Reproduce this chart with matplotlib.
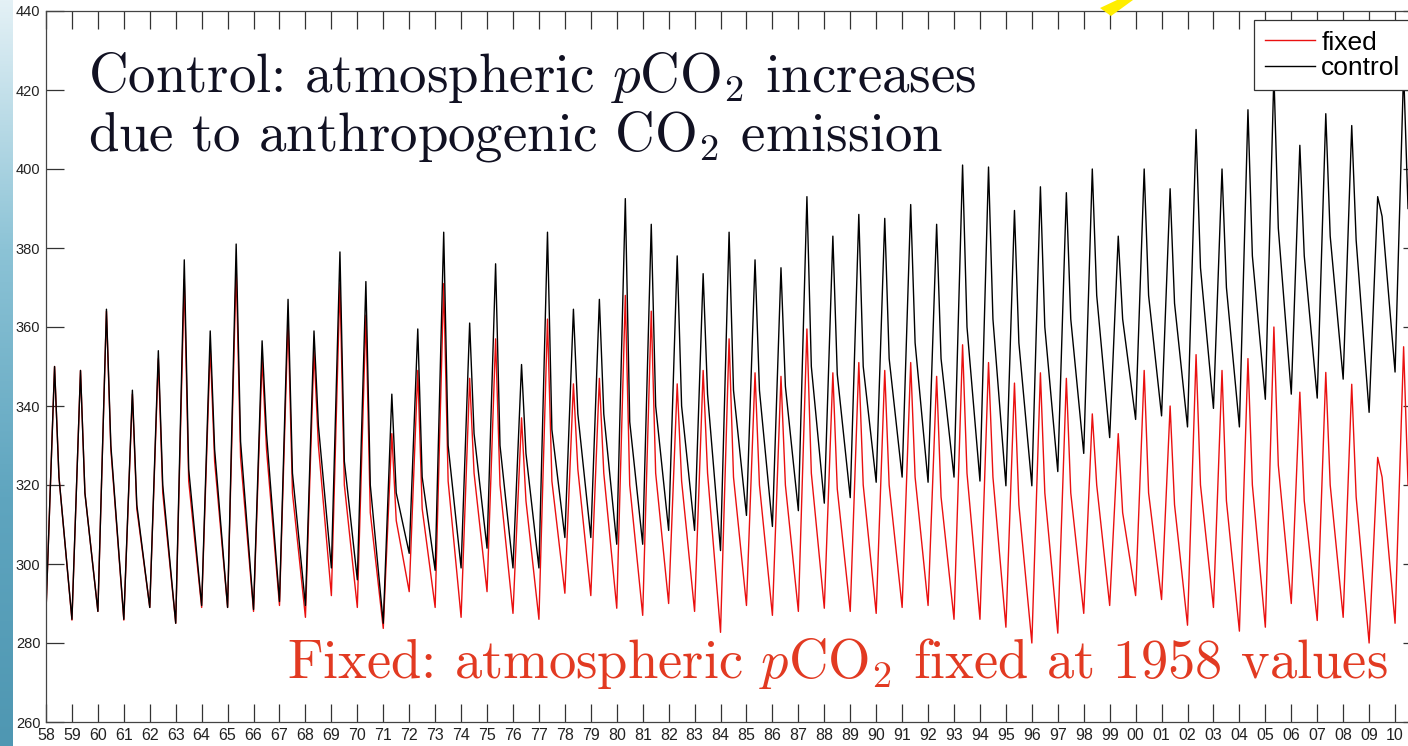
import matplotlib
matplotlib.use("Agg")
import matplotlib.pyplot as plt
import numpy as np
from matplotlib.patches import Polygon

# years of the run, one seasonal cycle each
years = list(range(1958, 2011))

# time of the winter low, spring peak and summer shoulder inside each year
phase = [0.0, 0.33, 0.5]

# control run (atmospheric pCO2 rising)
control_low = [288, 286, 288, 286, 289, 285, 289.5, 289, 288.5, 290.5,
               289.5, 299, 296, 285, 302.7, 298.4, 299, 304, 299, 299,
               306.7, 306.7, 305, 305, 308.5, 308.5, 303.4, 312.3, 309.5, 313.5,
               315.4, 316.8, 320.7, 322, 320.7, 322, 321, 319.8, 319.8, 323.4,
               328, 332, 336.6, 337.5, 334.7, 339.4, 334.7, 341.7, 343, 342,
               346.8, 338.4, 348.6]
control_peak = [350, 349, 364.5, 344, 354, 377, 359, 381, 356.5, 367,
                359, 379, 371.5, 343, 359.5, 384, 361, 376, 350.5, 384,
                364.5, 367, 392.5, 386, 378, 373.5, 384, 377, 375, 393,
                383, 388.5, 387.5, 391, 386, 401, 400.5, 389.5, 395.5, 394,
                400, 383, 400, 395, 410, 400, 415, 424, 406, 414,
                411, 393, 425]
control_mid = [322, 318, 330, 315, 320, 324, 329, 331, 333, 323,
               335, 326, 320, 318, 322, 330, 333, 330, 328, 334,
               338, 338, 336, 340, 340, 343, 344, 344, 345, 350,
               348, 350, 352, 356, 352, 360, 362, 356, 360, 362,
               368, 362, 368, 366, 375, 370, 378, 385, 378, 383,
               382, 388, 390]

# fixed run (atmospheric pCO2 held at 1958 values)
fixed_low = [288, 285.8, 288, 285.8, 289, 285, 289, 289, 288, 289.5,
             286.5, 292, 289, 283.7, 293, 289, 286.5, 293, 287.5, 286,
             292.6, 292, 288.8, 287, 290, 288, 282.7, 289.5, 287, 288,
             288.8, 288, 287.5, 289, 289.5, 286, 286, 284, 280, 282.5,
             287.5, 289.5, 292, 291, 284.5, 289, 283, 284, 290, 285.7,
             286.5, 280, 285]
fixed_peak = [350, 349, 364, 343, 352, 372, 355, 375, 352, 362,
              354, 371, 363, 333, 349, 371, 347, 357, 337, 362,
              345.6, 347, 368, 364, 345.6, 349, 357, 348.4, 347.5, 359.5,
              348.4, 351, 349, 351, 347.5, 355.5, 351, 345.8, 348.4, 347,
              338, 333, 349, 340, 353, 349, 352, 360, 343.5, 348.5,
              345.5, 327, 355]
fixed_mid = [322, 318, 329, 314, 318, 321, 326, 327, 329, 318,
             330, 320, 313, 311, 314, 321, 323, 320, 316, 321,
             324, 323, 320, 323, 321, 323, 322, 320, 320, 323,
             319, 320, 320, 322, 317, 323, 322, 315, 318, 318,
             320, 313, 318, 315, 320, 316, 320, 325, 316, 320,
             317, 322, 320]

y_ticks = list(range(260, 441, 20))
x_tick_labels = ["%02d" % (y % 100) for y in years]


def series(low, peak, mid):
    t, v = [], []
    for i, yr in enumerate(years):
        for ph, val in zip(phase, (low[i], peak[i], mid[i])):
            t.append(yr + ph)
            v.append(val)
    return t, v


W, H = 1408, 746
fig = plt.figure(figsize=(W / 100, H / 100), dpi=100)
fig.patch.set_facecolor("white")

# slide decorations: blue strip on the left, tip of a yellow arrow on top
strip = fig.add_axes([0, 0, 13 / W, 1])
grad = np.linspace(0, 1, 256).reshape(-1, 1)
cmap = matplotlib.colors.LinearSegmentedColormap.from_list(
    "strip", ["#e4f1f6", "#8cc3d6", "#5fa5bf", "#4f97b2"])
strip.imshow(grad, aspect="auto", cmap=cmap, extent=[0, 1, 0, 1])
strip.axis("off")

ax = fig.add_axes([46 / W, (H - 722) / H, (1421 - 46) / W, (722 - 11) / H])

t_fix, v_fix = series(fixed_low, fixed_peak, fixed_mid)
t_ctl, v_ctl = series(control_low, control_peak, control_mid)
ax.plot(t_fix, v_fix, color="#ea1010", lw=1.0, label="fixed")
ax.plot(t_ctl, v_ctl, color="black", lw=1.0, label="control")

ax.set_xlim(1958, 2011)
ax.set_ylim(260, 440)
ax.set_yticks(y_ticks)
ax.set_xticks(years)
ax.set_xticklabels(x_tick_labels)
ax.tick_params(direction="in", length=13, width=0.9, colors="#333333",
               top=True, right=True, pad=4)
ax.tick_params(axis="x", labelsize=11.5)
ax.tick_params(axis="y", labelsize=10.5)
for lab in ax.get_xticklabels() + ax.get_yticklabels():
    lab.set_fontfamily("Liberation Sans")
    lab.set_color("#222222")
for sp in ax.spines.values():
    sp.set_color("#444444")
    sp.set_linewidth(0.9)

leg = ax.legend(loc="upper left", bbox_to_anchor=(1254 / W, 1 - 20 / H),
                bbox_transform=fig.transFigure, fancybox=False, framealpha=1,
                edgecolor="#333333", borderpad=0.4, labelspacing=0.05,
                handlelength=1.9, handletextpad=0.25, borderaxespad=0,
                prop={"family": "Liberation Sans", "size": 19})
leg.get_frame().set_linewidth(0.9)

plt.rcParams["mathtext.fontset"] = "cm"
fig.text(88 / W, 1 - 92 / H, r"Control: atmospheric $p$CO$_2$ increases",
         family="cmr10", fontsize=39.5, color="#111122", va="baseline")
fig.text(88 / W, 1 - 150 / H, r"due to anthropogenic CO$_2$ emission",
         family="cmr10", fontsize=39.5, color="#111122", va="baseline")
fig.text(287 / W, 1 - 678 / H, r"Fixed: atmospheric $p$CO$_2$ fixed at 1958 values",
         family="cmr10", fontsize=39.3, color="#e23a22", va="baseline")

fig.patches.append(Polygon([[1100 / W, 1 - 8 / H], [1111 / W, 1 - 16 / H],
                            [1133 / W, 1.0], [1117 / W, 1.0]],
                           closed=True, transform=fig.transFigure,
                           facecolor="#ffee00", edgecolor="none"))

fig.savefig("out.png", dpi=100)
